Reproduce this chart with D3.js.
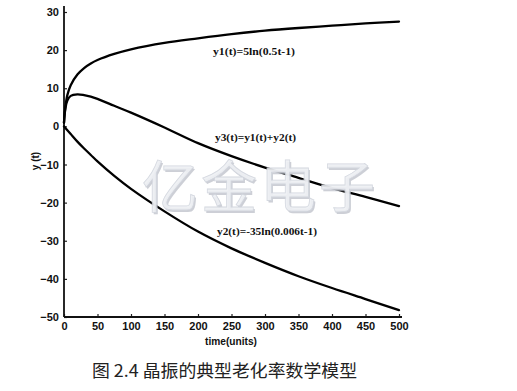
<!DOCTYPE html>
<html><head><meta charset="utf-8">
<script src="https://cdn.jsdelivr.net/npm/d3@7"></script>
<style>body{margin:0;background:#fff}svg{display:block}</style>
</head><body>
<script>
const time = [0, 2, 5, 10, 20, 30, 40, 50, 75, 100, 150, 200, 250, 300, 350, 400, 450, 500];
const y1 = [1.0, 5.0, 8.2, 10.8, 13.6, 15.3, 16.5, 17.4, 19.0, 20.2, 21.9, 23.1, 24.2, 25.1, 25.8, 26.4, 27.0, 27.5];
const y2 = [0, -0.4, -1.0, -2.0, -4.0, -5.8, -7.5, -9.2, -13.0, -16.4, -22.3, -27.6, -32.0, -35.8, -39.3, -42.4, -45.3, -48.2];
const y3 = [1.0, 4.6, 6.8, 8.0, 8.4, 8.2, 7.8, 7.2, 5.4, 3.6, -0.3, -4.4, -7.8, -10.8, -13.5, -16.2, -18.5, -20.9];
const xTicks = [0, 50, 100, 150, 200, 250, 300, 350, 400, 450, 500];
const yTicks = [30, 20, 10, 0, -10, -20, -30, -40, -50];
const labels = ["y1(t)=5ln(0.5t-1)", "y3(t)=y1(t)+y2(t)", "y2(t)=-35ln(0.006t-1)"];
const xTitle = "time(units)";
const yTitle = "y (t)";
const caption = "图 2.4 晶振的典型老化率数学模型";
const watermark = "亿金电子";

const W = 517, H = 391;
const svg = d3.select("body").append("svg").attr("width", W).attr("height", H);
const x = d3.scaleLinear().domain([0, 500]).range([64, 399]);
const y = d3.scaleLinear().domain([-50, 30]).range([317, 12]);

// axes
const xa = svg.append("g").attr("transform", `translate(0,${y(-50)})`)
  .call(d3.axisBottom(x).tickValues(xTicks).tickSize(-3).tickPadding(5));
const ya = svg.append("g").attr("transform", `translate(${x(0)},0)`)
  .call(d3.axisLeft(y).tickValues(yTicks).tickSize(-3).tickPadding(5));
[xa, ya].forEach(g => {
  g.select(".domain").remove();
  g.selectAll("line").attr("stroke", "#222").attr("stroke-width", 1.2);
  g.selectAll("text").attr("font-family", "Liberation Sans, Arial, sans-serif")
    .attr("font-weight", "bold").attr("font-size", 11).attr("fill", "#111");
});
svg.append("line").attr("x1", x(0)).attr("x2", x(0)).attr("y1", 6).attr("y2", y(-50))
  .attr("stroke", "#111").attr("stroke-width", 1.8);
svg.append("line").attr("x1", x(0)).attr("x2", 402).attr("y1", y(-50)).attr("y2", y(-50))
  .attr("stroke", "#111").attr("stroke-width", 1.8);

// curves
const line = vals => d3.line().x((d, i) => x(time[i])).y(d => y(d)).curve(d3.curveCatmullRom.alpha(0.5))(vals);
[y1, y2, y3].forEach(v => {
  svg.append("path").attr("d", line(v)).attr("fill", "none")
    .attr("stroke", "#000").attr("stroke-width", 2.3).attr("stroke-linecap", "round");
});

// curve labels
const lab = [[213, 55, 82], [215, 141, 81], [217, 235, 100]];
labels.forEach((t, i) => {
  svg.append("text").attr("x", lab[i][0]).attr("y", lab[i][1]).text(t)
    .attr("font-family", "Liberation Serif, serif").attr("font-weight", "bold")
    .attr("font-size", 10).attr("textLength", lab[i][2]).attr("lengthAdjust", "spacingAndGlyphs")
    .attr("fill", "#111");
});

// axis titles
svg.append("text").attr("x", 205).attr("y", 345).text(xTitle)
  .attr("font-family", "Liberation Sans, Arial, sans-serif").attr("font-weight", "bold")
  .attr("font-size", 11).attr("textLength", 52).attr("lengthAdjust", "spacingAndGlyphs").attr("fill", "#111");
svg.append("text").attr("transform", "translate(39,161) rotate(-90)").attr("text-anchor", "middle")
  .text(yTitle).attr("font-family", "Liberation Sans, Arial, sans-serif").attr("font-weight", "bold")
  .attr("font-size", 10).attr("fill", "#111");

// watermark
const wm = svg.append("g");
wm.append("text").attr("x", 260).attr("y", 207).attr("text-anchor", "middle").text(watermark)
  .attr("font-family", "Noto Sans CJK SC").attr("font-size", 56).attr("letter-spacing", 3)
  .attr("fill", "#b8bcc6").attr("opacity", 0.7).attr("transform", "translate(1.5,1.5)");
wm.append("text").attr("x", 260).attr("y", 207).attr("text-anchor", "middle").text(watermark)
  .attr("font-family", "Noto Sans CJK SC").attr("font-size", 56).attr("letter-spacing", 3)
  .attr("fill", "#eef0f4").attr("stroke", "#d2d6de").attr("stroke-width", 0.8).attr("opacity", 0.92);

// caption
svg.append("text").attr("x", 92).attr("y", 377).text(caption)
  .attr("font-family", "Noto Sans CJK SC").attr("font-size", 17)
  .attr("textLength", 265).attr("lengthAdjust", "spacingAndGlyphs").attr("fill", "#222");
</script>
</body></html>
